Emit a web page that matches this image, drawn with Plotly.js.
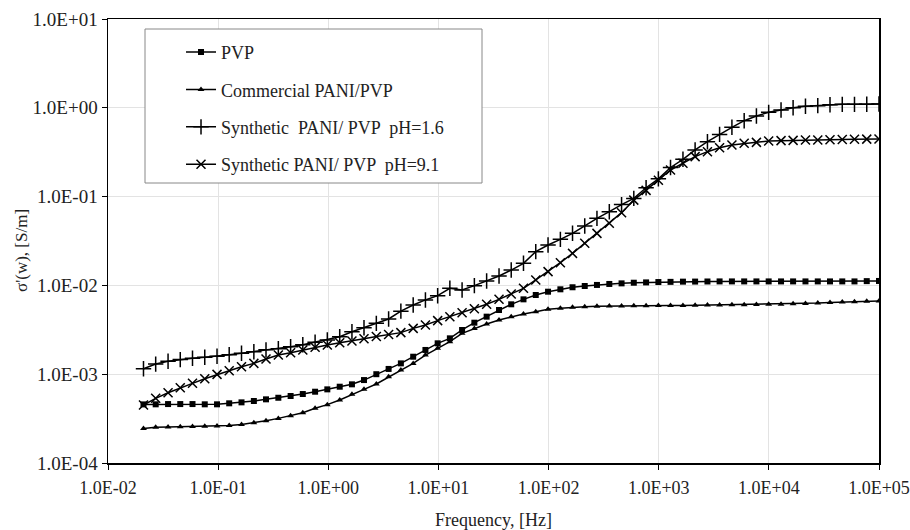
<!DOCTYPE html>
<html>
<head>
<meta charset="utf-8">
<script src="https://cdn.plot.ly/plotly-3.0.1.min.js"></script>
<style>html,body{margin:0;padding:0;background:#fff;}#chart{width:910px;height:530px;}</style>
</head>
<body>
<div id="chart"></div>
<script>
const frequency = [0.0210,0.0271,0.0351,0.0453,0.0585,0.0756,0.0977,0.126,0.163,0.211,
  0.272,0.352,0.455,0.587,0.759,0.980,1.27,1.64,2.11,2.73,
  3.53,4.56,5.90,7.62,9.84,12.7,16.4,21.2,27.4,35.5,
  45.8,59.2,76.5,98.9,128,165,213,275,356,460,
  594,768,993,1280,1660,2140,2770,3570,4620,5970,
  7710,9960,12900,16600,21500,27800,35900,46400,59900,77400,100000];

const pvp = [4.57e-4,4.58e-4,4.61e-4,4.61e-4,4.61e-4,4.58e-4,4.58e-4,4.70e-4,4.82e-4,4.99e-4,
  5.21e-4,5.43e-4,5.68e-4,5.98e-4,6.35e-4,6.75e-4,7.23e-4,7.69e-4,8.59e-4,1.00e-3,
  1.146e-3,1.324e-3,1.574e-3,1.875e-3,2.228e-3,2.535e-3,3.148e-3,3.802e-3,4.446e-3,5.284e-3,
  6.124e-3,6.966e-3,7.798e-3,8.492e-3,9.036e-3,9.528e-3,9.840e-3,0.01012,0.01038,0.01054,
  0.01072,0.01081,0.01091,0.01096,0.01102,0.01104,0.01107,0.01109,0.01109,0.01109,
  0.01109,0.01109,0.01109,0.01109,0.01109,0.01109,0.01109,0.01109,0.01109,0.01117,0.01122];

const commercial = [2.45e-4,2.52e-4,2.54e-4,2.56e-4,2.58e-4,2.59e-4,2.61e-4,2.65e-4,2.72e-4,2.84e-4,
  2.99e-4,3.18e-4,3.41e-4,3.68e-4,4.13e-4,4.54e-4,5.12e-4,5.93e-4,6.75e-4,7.76e-4,
  9.33e-4,1.114e-3,1.324e-3,1.644e-3,1.954e-3,2.323e-3,2.884e-3,3.281e-3,3.673e-3,4.074e-3,
  4.446e-3,4.764e-3,5.058e-3,5.383e-3,5.521e-3,5.662e-3,5.754e-3,5.821e-3,5.861e-3,5.861e-3,
  5.902e-3,5.902e-3,5.929e-3,5.957e-3,5.957e-3,5.984e-3,6.012e-3,6.012e-3,6.039e-3,6.067e-3,
  6.095e-3,6.124e-3,6.152e-3,6.209e-3,6.266e-3,6.339e-3,6.427e-3,6.501e-3,6.561e-3,6.637e-3,6.668e-3];

const synthPH16 = [0.00115,0.00130,0.00140,0.00146,0.00151,0.00155,0.00159,0.00166,0.00172,0.00179,
  0.00188,0.00194,0.00204,0.00215,0.00229,0.00243,0.00264,0.00301,0.00334,0.00374,
  0.00419,0.00513,0.00601,0.00686,0.00766,0.00927,0.00887,0.00993,0.01122,0.01276,
  0.01489,0.01774,0.0240,0.0285,0.0330,0.0386,0.0467,0.0569,0.0676,0.0813,
  0.0955,0.1259,0.1585,0.2128,0.2630,0.335,0.415,0.502,0.603,0.716,
  0.809,0.889,0.944,1.002,1.040,1.057,1.084,1.094,1.094,1.096,1.104];

const synthPH91 = [4.50e-4,5.35e-4,6.19e-4,7.05e-4,7.89e-4,8.89e-4,9.95e-4,1.094e-3,1.213e-3,1.324e-3,
  1.483e-3,1.644e-3,1.746e-3,1.875e-3,2.009e-3,2.133e-3,2.265e-3,2.366e-3,2.512e-3,2.661e-3,
  2.799e-3,2.938e-3,3.281e-3,3.581e-3,4.009e-3,4.446e-3,4.932e-3,5.470e-3,6.124e-3,6.966e-3,
  8.00e-3,9.268e-3,0.01151,0.01429,0.01803,0.02296,0.02979,0.03855,0.05012,0.06592,
  0.0912,0.1175,0.1531,0.1995,0.2371,0.2818,0.3206,0.3556,0.3811,0.3981,
  0.4083,0.4227,0.4266,0.4295,0.4335,0.4345,0.4365,0.4385,0.4416,0.4436,0.4457];

const seriesNames = ['PVP','Commercial PANI/PVP','Synthetic  PANI/ PVP  pH=1.6','Synthetic PANI/ PVP  pH=9.1'];
const xTickVals = [0.01,0.1,1,10,100,1000,10000,100000];
const xTickText = ['1.0E-02','1.0E-01','1.0E+00','1.0E+01','1.0E+02','1.0E+03','1.0E+04','1.0E+05'];
const yTickVals = [1e-4,1e-3,1e-2,1e-1,1,10];
const yTickText = ['1.0E-04','1.0E-03','1.0E-02','1.0E-01','1.0E+00','1.0E+01'];
const xTitle = 'Frequency, [Hz]';
const yTitle = "σ'(w), [S/m]";

const serif = 'Liberation Serif, Times New Roman, serif';
const lineStyle = {color:'#000', width:1.5};

function tr(y, name, symbol, size, group) {
  const open = symbol.indexOf('thin') >= 0;
  return {
    x: frequency, y: y, name: name, type:'scatter', mode:'lines+markers',
    legendgroup: group,
    line: lineStyle,
    marker: open ? {symbol: symbol, size: size, color:'#000', line:{color:'#000', width:1.5}}
                 : {symbol: symbol, size: size, color:'#000', line:{width:0}}
  };
}

const data = [
  tr(pvp, seriesNames[0], 'square', 6, 'a'),
  tr(commercial, seriesNames[1], 'triangle-up', 6, 'b'),
  tr(synthPH16, seriesNames[2], 'cross-thin', 11, 'c'),
  tr(synthPH91, seriesNames[3], 'x-thin', 9, 'd')
];

const axisCommon = {
  type:'log', showline:true, linecolor:'#000', linewidth:1.5, mirror:true,
  ticks:'outside', ticklen:5, tickwidth:1, tickcolor:'#000',
  showgrid:true, gridcolor:'#e3e3e3', gridwidth:1, zeroline:false
};

const layout = {
  width:910, height:530,
  margin:{l:108, r:31, t:19, b:67},
  paper_bgcolor:'#fff', plot_bgcolor:'#fff',
  font:{family:serif, size:18, color:'#222'},
  showlegend:true,
  xaxis: Object.assign({}, axisCommon, {
    range:[-2,5], tickvals:xTickVals, ticktext:xTickText,
    tickfont:{family:serif, size:18, color:'#222'}, ticklabelstandoff:3,
    title:{text:xTitle, font:{family:serif, size:18, color:'#222'}, standoff:17}
  }),
  yaxis: Object.assign({}, axisCommon, {
    range:[-4,1], tickvals:yTickVals, ticktext:yTickText,
    tickfont:{family:serif, size:19, color:'#222'}
  }),
  legend:{
    x:0.0947, y:0.9665, xanchor:'left', yanchor:'top',
    bgcolor:'rgba(0,0,0,0)', borderwidth:0,
    traceorder:'grouped', tracegroupgap:11,
    font:{family:serif, size:18, color:'#222'}
  },
  annotations:[{
    text:yTitle, textangle:-90, xref:'paper', yref:'paper',
    x:(21-108)/771, y:1-(251-19)/444, xanchor:'center', yanchor:'middle',
    showarrow:false, font:{family:serif, size:17, color:'#222'}
  }],
  shapes:[{
    type:'rect', xref:'paper', yref:'paper', layer:'above',
    x0:(145-108)/771, x1:(482-108)/771, y0:1-(183-19)/444, y1:1-(29-19)/444,
    fillcolor:'#fff', line:{color:'#888', width:1}
  }]
};

Plotly.newPlot('chart', data, layout, {displayModeBar:false, staticPlot:true});
</script>
</body>
</html>
